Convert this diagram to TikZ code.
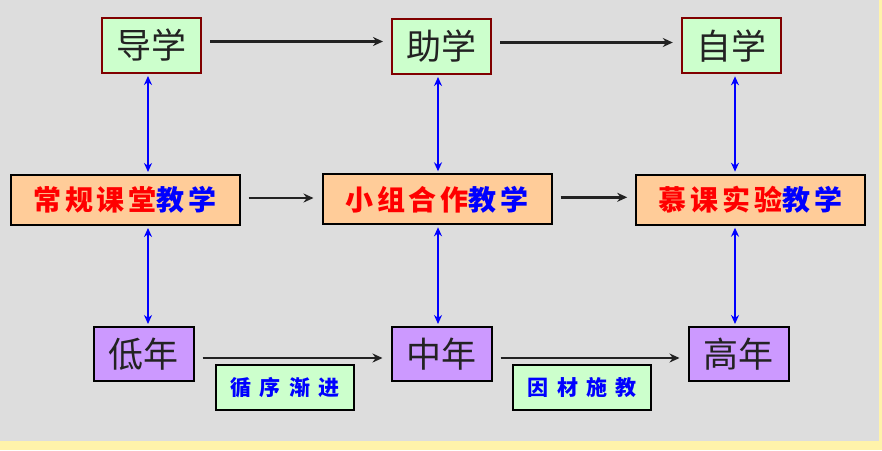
\documentclass[tikz,border=0pt]{standalone}
\usepackage{fontspec}
\usetikzlibrary{positioning, arrows.meta}
\newfontfamily\cjk{Noto Sans CJK SC}
\newfontfamily\cjkmid[LetterSpace=14]{Noto Sans CJK SC}
\newfontfamily\cjktag[LetterSpace=40]{Noto Sans CJK SC}
\definecolor{bgGray}{HTML}{DDDDDD}
\definecolor{bgYellow}{HTML}{FFF3AA}
\definecolor{boxGreen}{HTML}{CCFFCC}
\definecolor{boxOrange}{HTML}{FFCC99}
\definecolor{boxPurple}{HTML}{CC99FF}
\definecolor{darkRed}{HTML}{800000}
\definecolor{inkDark}{HTML}{222222}
\tikzset{
  every node/.style={font=\cjk},
  arr/.style={-{Stealth[length=10pt, width=9pt]}, line width=2.8pt, inkDark, shorten <=8pt, shorten >=8pt},
  dbl/.style={{Stealth[length=9pt, width=8pt]}-{Stealth[length=9pt, width=8pt]}, line width=2.4pt, blue, shorten <=2pt, shorten >=2pt},
  stage/.style={draw=darkRed, line width=2pt, fill=boxGreen, minimum width=99pt, minimum height=55pt,
                inner sep=0pt, text=inkDark, font=\cjk\fontsize{35}{37}\selectfont},
  mode/.style={draw=black, line width=2pt, fill=boxOrange, minimum width=229pt, minimum height=50pt,
               inner sep=0pt, font=\cjkmid\bfseries\fontsize{28}{30}\selectfont},
  grade/.style={draw=black, line width=2pt, fill=boxPurple, minimum width=100pt, minimum height=54pt,
                inner sep=0pt, text=inkDark, font=\cjk\fontsize{35}{37}\selectfont},
  tag/.style={draw=black, line width=2pt, fill=boxGreen, minimum width=138pt, minimum height=45pt,
              inner sep=0pt, text=blue, font=\cjktag\bfseries\fontsize{21}{23}\selectfont},
}
\newcommand{\redblue}[2]{{\color{red}#1}{\color{blue}#2}}

\begin{document}
\begin{tikzpicture}[x=1pt, y=-1pt]
  % background
  \fill[bgYellow] (0,0) rectangle (882,450);
  \fill[bgGray] (0,0) rectangle (879,441);
  \useasboundingbox (0,0) rectangle (882,450);
  % top row
  \node[stage] (dao) at (151.5,45.5) {导学};
  \node[stage] (zhu) at (441.5,46.5) {助学};
  \node[stage] (zi)  at (731.3,45.8) {自学};
  % middle row
  \node[mode] (chang) at (125,200)   {\redblue{常规课堂}{教学}};
  \node[mode] (xiao)  at (437,199.3) {\redblue{小组合作}{教学}};
  \node[mode] (mu)    at (750.7,199.7) {\redblue{慕课实验}{教学}};
  % bottom row
  \node[grade] (di)    at (143.5,354) {低年};
  \node[grade] (zhong) at (441.5,354) {中年};
  \node[grade] (gao)   at (738.5,354) {高年};
  \node[tag] (xun) at (285,387.7)   {循序渐进};
  \node[tag] (yin) at (582.3,387.7) {因材施教};
  % horizontal arrows
  \draw[arr] ([yshift=4pt]dao.east) -- ([yshift=4pt]dao.east -| zhu.west);
  \draw[arr] ([yshift=4pt]zhu.east) -- ([yshift=4pt]zhu.east -| zi.west);
  \draw[arr] ([yshift=2pt]chang.east) -- ([yshift=2pt]chang.east -| xiao.west);
  \draw[arr] ([yshift=2pt]xiao.east) -- ([yshift=2pt]xiao.east -| mu.west);
  \draw[arr] ([yshift=-4pt]di.east) -- ([yshift=-4pt]di.east -| zhong.west);
  \draw[arr] ([yshift=-4pt]zhong.east) -- ([yshift=-4pt]zhong.east -| gao.west);
  % vertical double arrows
  \draw[dbl] ([xshift=-3.5pt]dao.south) -- ([xshift=-3.5pt]dao.south |- chang.north);
  \draw[dbl] ([xshift=4.5pt]di.north) -- ([xshift=4.5pt]di.north |- chang.south);
  \draw[dbl] ([xshift=-3.5pt]zhu.south) -- ([xshift=-3.5pt]zhu.south |- xiao.north);
  \draw[dbl] ([xshift=-3.5pt]zhong.north) -- ([xshift=-3.5pt]zhong.north |- xiao.south);
  \draw[dbl] ([xshift=3.7pt]zi.south) -- ([xshift=3.7pt]zi.south |- mu.north);
  \draw[dbl] ([xshift=-3.5pt]gao.north) -- ([xshift=-3.5pt]gao.north |- mu.south);
\end{tikzpicture}
\end{document}
